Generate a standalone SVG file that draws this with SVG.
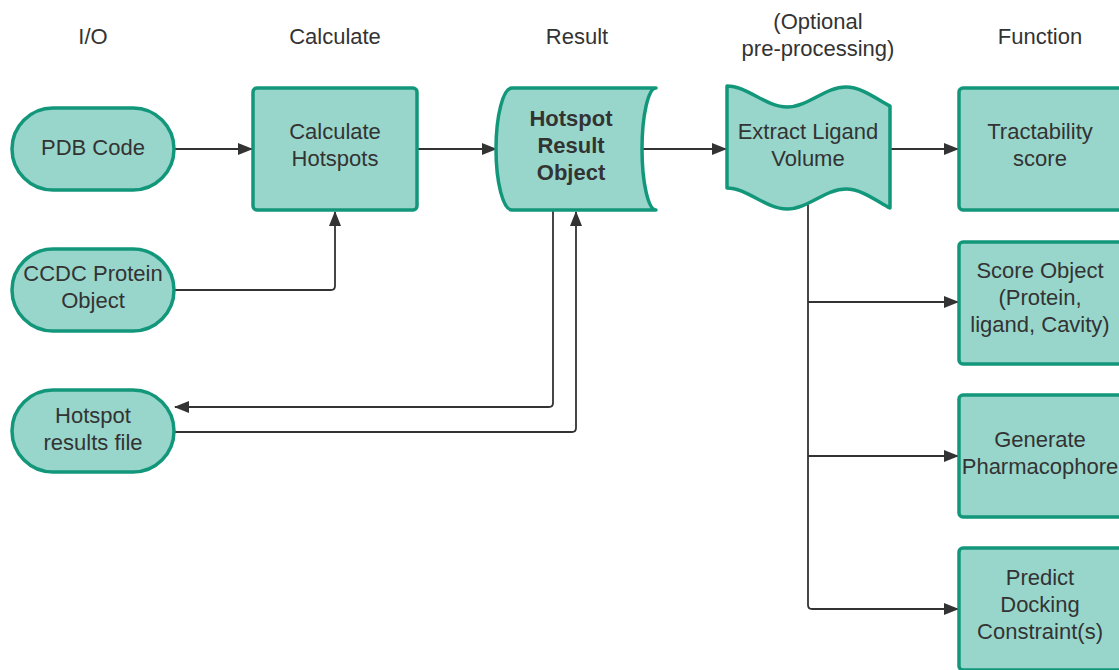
<svg xmlns="http://www.w3.org/2000/svg" width="1119" height="670" viewBox="0 0 1119 670">
<defs>
<style>
.n{fill:#98d6cb;stroke:#13977b;stroke-width:3.5;stroke-linejoin:round}
.t{font-family:"Liberation Sans",Arial,sans-serif;font-size:22px;fill:#333333;text-anchor:middle}
.b{font-weight:bold}
.c{fill:none;stroke:#333333;stroke-width:1.8}
</style>
<marker id="ah" markerUnits="userSpaceOnUse" markerWidth="15" markerHeight="12" refX="14" refY="6" orient="auto">
<path d="M0,0 L15,6 L0,12 Z" fill="#333333"/>
</marker>
</defs>
<rect width="1119" height="670" fill="#ffffff"/>
<g id="headers">
<text class="t" x="93" y="44">I/O</text>
<text class="t" x="335" y="44">Calculate</text>
<text class="t" x="577" y="44">Result</text>
<text class="t" x="818" y="29">(Optional</text>
<text class="t" x="818" y="56">pre-processing)</text>
<text class="t" x="1040" y="44">Function</text>
</g>
<g id="connectors">
<path class="c" marker-end="url(#ah)" d="M174,149 H252"/>
<path class="c" marker-end="url(#ah)" d="M174,290 H331 Q335,290 335,286 V212"/>
<path class="c" marker-end="url(#ah)" d="M417,149 H496"/>
<path class="c" marker-end="url(#ah)" d="M643,149 H726"/>
<path class="c" marker-end="url(#ah)" d="M890,149 H958"/>
<path class="c" marker-end="url(#ah)" d="M808,205 V605 Q808,609 812,609 H958"/>
<path class="c" marker-end="url(#ah)" d="M808,302 H958"/>
<path class="c" marker-end="url(#ah)" d="M808,456 H958"/>
<path class="c" marker-end="url(#ah)" d="M553,210 V403 Q553,407 549,407 H175"/>
<path class="c" marker-end="url(#ah)" d="M174,432 H572 Q576,432 576,428 V212"/>
</g>
<g id="pdb-code">
<rect class="n" x="12" y="108" width="162" height="82" rx="41"/>
<text class="t" x="93" y="155">PDB Code</text>
</g>
<g id="ccdc-protein">
<rect class="n" x="12" y="249" width="162" height="82" rx="41"/>
<text class="t" x="93" y="281">CCDC Protein</text>
<text class="t" x="93" y="308">Object</text>
</g>
<g id="hotspot-file">
<rect class="n" x="12" y="390" width="162" height="82" rx="41"/>
<text class="t" x="93" y="423">Hotspot</text>
<text class="t" x="93" y="450">results file</text>
</g>
<g id="calculate-hotspots">
<rect class="n" x="253" y="88" width="164" height="122" rx="4"/>
<text class="t" x="335" y="139">Calculate</text>
<text class="t" x="335" y="166">Hotspots</text>
</g>
<g id="hotspot-result">
<path class="n" d="M512,88 H656 A14,61 0 0 0 656,210 H512 A16,61 0 0 1 512,88 Z"/>
<text class="t b" x="571" y="126">Hotspot</text>
<text class="t b" x="571" y="153">Result</text>
<text class="t b" x="571" y="180">Object</text>
</g>
<g id="extract-ligand">
<path class="n" d="M727,86 C747,86 766,107 787,107 C808,107 825,87 846,87 C862,87 878,100 890,106 V208 C878,202 862,189 846,189 C825,189 808,209 787,209 C766,209 747,188 727,188 Z"/>
<text class="t" x="808" y="139">Extract Ligand</text>
<text class="t" x="808" y="166">Volume</text>
</g>
<g id="tractability">
<rect class="n" x="959" y="88" width="164" height="122" rx="4"/>
<text class="t" x="1040" y="139">Tractability</text>
<text class="t" x="1040" y="166">score</text>
</g>
<g id="score-object">
<rect class="n" x="959" y="242" width="164" height="122" rx="4"/>
<text class="t" x="1040" y="278">Score Object</text>
<text class="t" x="1040" y="305">(Protein,</text>
<text class="t" x="1040" y="332">ligand, Cavity)</text>
</g>
<g id="pharmacophore">
<rect class="n" x="959" y="395" width="164" height="122" rx="4"/>
<text class="t" x="1040" y="447">Generate</text>
<text class="t" x="1040" y="474">Pharmacophore</text>
</g>
<g id="docking">
<rect class="n" x="959" y="548" width="164" height="122" rx="4"/>
<text class="t" x="1040" y="585">Predict</text>
<text class="t" x="1040" y="612">Docking</text>
<text class="t" x="1040" y="639">Constraint(s)</text>
</g>
</svg>
